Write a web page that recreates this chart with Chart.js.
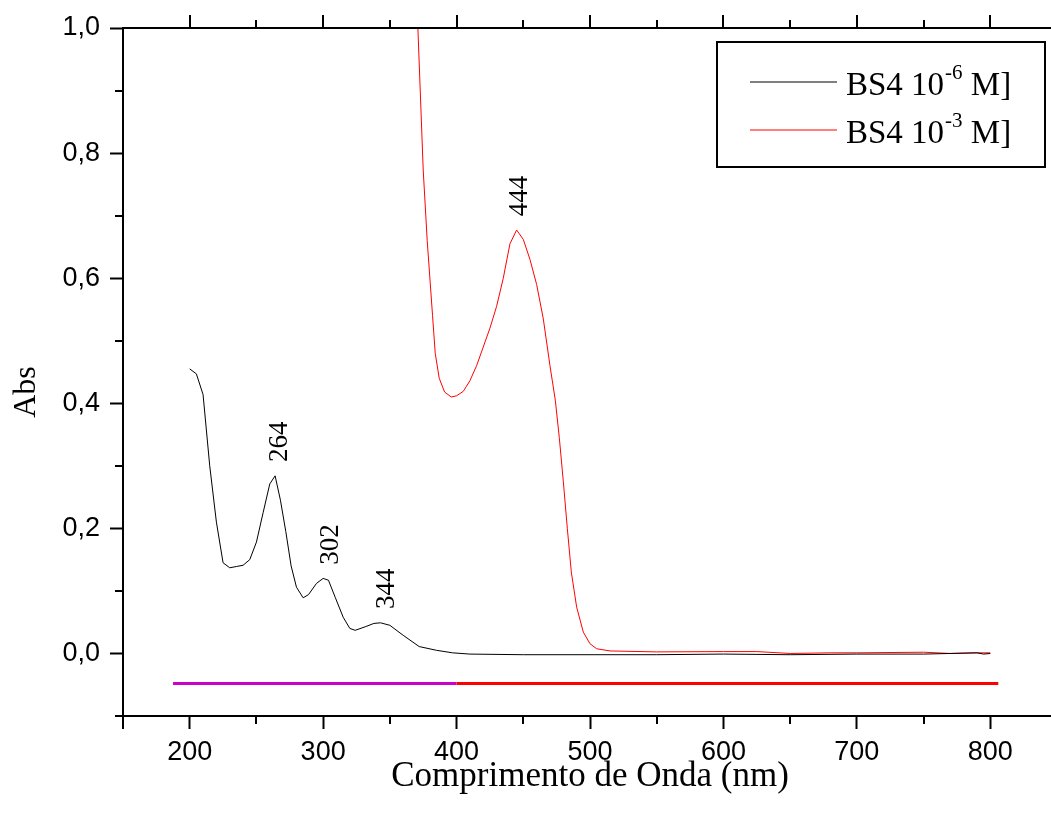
<!DOCTYPE html>
<html>
<head>
<meta charset="utf-8">
<script src="https://cdn.jsdelivr.net/npm/chart.js@4.4.1/dist/chart.umd.min.js"></script>
<style>
  html, body { margin: 0; padding: 0; background: #fff; overflow: hidden; }
  #wrap { width: 1051px; height: 823px; overflow: hidden; }
  canvas { display: block; }
</style>
</head>
<body>
<div id="wrap"><canvas id="spectraChart" width="1060" height="823"></canvas></div>
<script>
// BS4 10^-6 M (black)
const nmLow = [200, 205, 210, 215, 220, 225, 230, 235, 240, 245, 250, 255, 260, 264, 268, 272, 276, 280, 285, 289,
  295, 300, 304, 309, 315, 320, 324, 332, 338, 343, 350, 360, 372, 385, 397, 410, 450, 500, 550, 600, 650, 700, 750, 790, 795, 800];
const absLow = [0.455, 0.447, 0.414, 0.30, 0.21, 0.145, 0.137, 0.139, 0.141, 0.15, 0.178, 0.225, 0.271, 0.284, 0.245, 0.195, 0.14, 0.106, 0.089, 0.094,
  0.112, 0.12, 0.117, 0.09, 0.058, 0.04, 0.037, 0.043, 0.048, 0.049, 0.045, 0.029, 0.011, 0.005, 0.001, -0.001, -0.002, -0.002, -0.002, -0.001, -0.002, -0.001, -0.001, 0.001, -0.001, 0.0];

// BS4 10^-3 M (red)
const nmHigh = [368, 371, 375, 378, 382, 384, 387, 391, 396, 400, 405, 410, 415, 420, 425, 430, 435, 440, 445, 450,
  455, 460, 465, 470, 474, 477, 480, 483, 486, 490, 495, 500, 505, 515, 550, 600, 625, 650, 680, 700, 750, 770, 790, 800];
const absHigh = [1.1, 1.0, 0.773, 0.66, 0.54, 0.48, 0.44, 0.418, 0.41, 0.412, 0.419, 0.436, 0.46, 0.49, 0.52, 0.555, 0.6, 0.655, 0.677, 0.662,
  0.63, 0.59, 0.535, 0.46, 0.405, 0.345, 0.275, 0.2, 0.13, 0.074, 0.034, 0.0155, 0.0075, 0.004, 0.0025, 0.003, 0.003, 0.0, 0.001, 0.001, 0.002, 0.0, 0.001, 0.001];

// coloured marker bar under the spectra
const barPurpleNm = [187.5, 400];
const barRedNm = [400, 806];
const barAbs = -0.048;

// peak annotations
const peakNm = [264, 302, 344, 444];
const peakAbs = [0.284, 0.12, 0.049, 0.677];

const xMajor = [200, 300, 400, 500, 600, 700, 800];
const xMinor = [250, 350, 450, 550, 650, 750];
const yMajor = [0, 0.2, 0.4, 0.6, 0.8, 1.0];
const yMinor = [-0.1, 0.1, 0.3, 0.5, 0.7, 0.9];

const seriesLabels = ['BS4 10^-6 M]', 'BS4 10^-3 M]'];

const SERIF = '"Liberation Serif", "Times New Roman", serif';
const SANS = '"Liberation Sans", Arial, sans-serif';

const toXY = (xs, ys) => xs.map((x, i) => ({ x: x, y: Array.isArray(ys) ? ys[i] : ys }));

// minor ticks, top axis, peak labels and the boxed legend
const extrasPlugin = {
    id: 'extras',
    afterDraw(chart) {
        const ctx = chart.ctx;
        const area = chart.chartArea;
        const xs = chart.scales.x;
        const ys = chart.scales.y;
        ctx.save();
        ctx.strokeStyle = '#000';
        ctx.lineWidth = 2;
        ctx.beginPath();
        // top spine
        ctx.moveTo(area.left - 1, area.top);
        ctx.lineTo(area.right, area.top);
        // edge tick below the corner
        ctx.moveTo(area.left, area.bottom);
        ctx.lineTo(area.left, area.bottom + 13);
        xMinor.forEach(v => {
            const px = Math.round(xs.getPixelForValue(v));
            ctx.moveTo(px, area.bottom);
            ctx.lineTo(px, area.bottom + 8);
            ctx.moveTo(px, area.top);
            ctx.lineTo(px, area.top - 8);
        });
        xMajor.forEach(v => {
            const px = Math.round(xs.getPixelForValue(v));
            ctx.moveTo(px, area.top);
            ctx.lineTo(px, area.top - 13);
        });
        yMinor.forEach(v => {
            const py = Math.round(ys.getPixelForValue(v));
            ctx.moveTo(area.left, py);
            ctx.lineTo(area.left - 8, py);
        });
        ctx.stroke();

        // peak labels, rotated
        ctx.fillStyle = '#000';
        ctx.font = '27px ' + SERIF;
        ctx.textAlign = 'center';
        ctx.textBaseline = 'alphabetic';
        peakNm.forEach((nm, i) => {
            const px = xs.getPixelForValue(nm);
            const py = ys.getPixelForValue(peakAbs[i]);
            ctx.save();
            ctx.translate(px + 12, py - 34);
            ctx.rotate(-Math.PI / 2);
            ctx.fillText(String(nm), 0, 0);
            ctx.restore();
        });

        // legend box
        const bx = area.right - 340, by = area.top + 14, bw = 328, bh = 125;
        ctx.lineWidth = 2;
        ctx.strokeRect(bx, by, bw, bh);
        seriesLabels.forEach((label, i) => {
            const ds = chart.data.datasets[i];
            const ly = by + 40 + i * 48;
            ctx.strokeStyle = ds.borderColor;
            ctx.lineWidth = 1;
            ctx.beginPath();
            ctx.moveTo(bx + 33, ly);
            ctx.lineTo(bx + 120, ly);
            ctx.stroke();

            const parts = label.split('^');
            const sp = parts[1].indexOf(' ');
            const sup = parts[1].slice(0, sp);
            const rest = parts[1].slice(sp);
            const base = ly + 13;
            let tx = bx + 129;
            ctx.textAlign = 'left';
            ctx.fillStyle = '#000';
            ctx.font = '33px ' + SERIF;
            ctx.fillText(parts[0], tx, base);
            tx += ctx.measureText(parts[0]).width + 1;
            ctx.font = '21px ' + SERIF;
            ctx.fillText(sup, tx, base - 16);
            tx += ctx.measureText(sup).width;
            ctx.font = '33px ' + SERIF;
            ctx.fillText(rest, tx, base);
        });
        ctx.restore();
    }
};

const ctx = document.getElementById('spectraChart').getContext('2d');
const spectraChart = new Chart(ctx, {
    type: 'line',
    data: {
        datasets: [{
            label: seriesLabels[0],
            data: toXY(nmLow, absLow),
            borderColor: '#000000',
            borderWidth: 1,
            pointRadius: 0,
            tension: 0
        }, {
            label: seriesLabels[1],
            data: toXY(nmHigh, absHigh),
            borderColor: '#ff0000',
            borderWidth: 1,
            pointRadius: 0,
            tension: 0
        }, {
            label: 'bar-purple',
            data: toXY(barPurpleNm, barAbs),
            borderColor: '#cc00cc',
            borderWidth: 3,
            pointRadius: 0
        }, {
            label: 'bar-red',
            data: toXY(barRedNm, barAbs),
            borderColor: '#ff0000',
            borderWidth: 3,
            pointRadius: 0
        }]
    },
    options: {
        responsive: false,
        animation: false,
        layout: { padding: { top: 28, right: 3, left: 0, bottom: 0 } },
        scales: {
            x: {
                type: 'linear',
                min: 150,
                max: 850,
                afterBuildTicks: scale => { scale.ticks = xMajor.map(v => ({ value: v })); },
                afterFit: scale => { scale.height = 107; },
                ticks: {
                    color: '#000',
                    padding: 7,
                    font: { family: SANS, size: 27 },
                    callback: v => String(v)
                },
                grid: { drawOnChartArea: false, drawTicks: true, tickLength: 13, tickWidth: 2, tickColor: '#000' },
                border: { display: true, color: '#000', width: 2 },
                title: {
                    display: true,
                    text: 'Comprimento de Onda (nm)',
                    color: '#000',
                    font: { family: SERIF, size: 35 },
                    padding: { top: 0, bottom: 25 }
                }
            },
            y: {
                min: -0.1,
                max: 1.0,
                afterBuildTicks: scale => { scale.ticks = yMajor.map(v => ({ value: v })); },
                afterFit: scale => { scale.width = 123; },
                ticks: {
                    color: '#000',
                    padding: 10,
                    font: { family: SANS, size: 27 },
                    callback: v => v.toFixed(1).replace('.', ',')
                },
                grid: { drawOnChartArea: false, drawTicks: true, tickLength: 13, tickWidth: 2, tickColor: '#000' },
                border: { display: true, color: '#000', width: 2 },
                title: {
                    display: true,
                    text: 'Abs     ',
                    color: '#000',
                    font: { family: SERIF, size: 32 },
                    padding: { top: 7, bottom: 0 }
                }
            }
        },
        plugins: {
            legend: { display: false },
            tooltip: { enabled: false }
        }
    },
    plugins: [extrasPlugin]
});
</script>
</body>
</html>
